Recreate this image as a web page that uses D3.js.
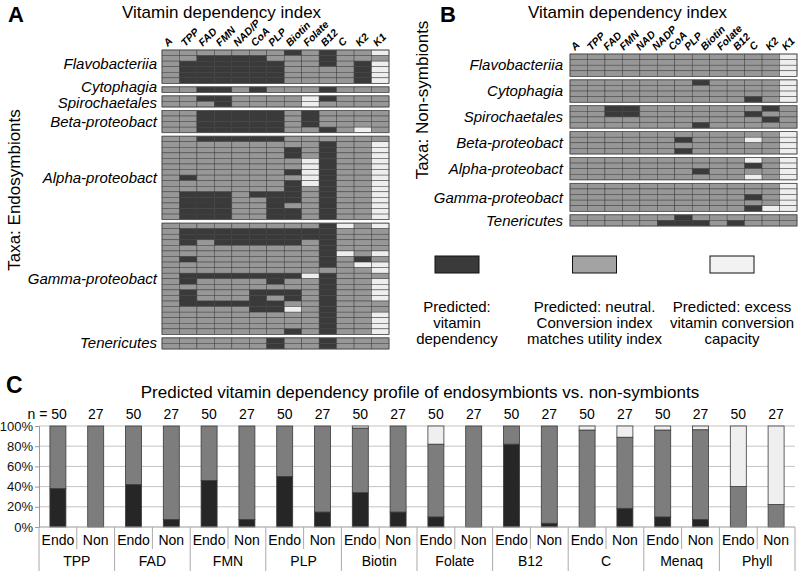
<!DOCTYPE html>
<html><head><meta charset="utf-8">
<script src="https://cdn.jsdelivr.net/npm/d3@7"></script>
<style>
html,body{margin:0;padding:0;background:#fff;}
svg{display:block;font-family:"Liberation Sans",Arial,sans-serif;}
</style></head>
<body><div id="chart"></div>
<script>
// ---------- DATA ----------
const colsA = ["A","TPP","FAD","FMN","NAD/P","CoA","PLP","Biotin","Folate","B12","C","K2","K1"];
const colsB = ["A","TPP","FAD","FMN","NAD","NADP","CoA","PLP","Biotin","Folate","B12","C","K2","K1"];
const groupsA = ["Flavobacteriia","Cytophagia","Spirochaetales","Beta-proteobact","Alpha-proteobact","Gamma-proteobact","Tenericutes"];
const groupsB = ["Flavobacteriia","Cytophagia","Spirochaetales","Beta-proteobact","Alpha-proteobact","Gamma-proteobact","Tenericutes"];
// codes: d = vitamin dependency, g = neutral, l = excess conversion capacity
const flavoA = ["gggggggdgdggl","ggddddgggdggg","gddddddggdgdl","gddddddggggdl","gddddddggggdl","gddddddggggdl"];
const cytoA = ["ggddgdgggdggg"];
const spiroA = ["ggddggggldggg","gggdgggglgggg"];
const betaA = ["ggdddddgdgggg","ggdddddgdgggg","ggdddddgdgggg","ggdddddggdglg"];
const alphaA = ["ggdddddgggggg","gggggggggdggl","gggggggdgdggl","gggggggdgdggl","ggggggggldggl",
  "ggggggggldggl","gggggggdldggl","gdggggggldggl","gggggggdldggl","gggggggdgdggl",
  "gdddgdddgdggl","gdddggddgdggl","gdddggdggdggl","gdddggddgdggl","gdddggddgdggl"];
const gammaA = ["gggggggggdlgl","gdddddddddggg","gdddddddddggg","gdgdddddgdggg","gggggggggdggg",
  "gggggggggdlgl","gdgggggggdgdg","gggggggggdgll","ggggggggggggl","gdddddddldggg",
  "gdggggdggdggl","gggggggggdggl","gdgggdddgdggl","gdgggdgdgdggl","gddddddggdggg",
  "gggggddlgdggg","gggggggggdggl","gggggggggdggl","gggggggggdggl","gggggggdgdggl"];
const teneA = ["ggggggdggdggg","ggggggdggdggg"];

const flavoB = ["ggggggggggggl","ggggggggggggl","ggggggggggggl","ggggggggggggl"];
const cytoB = ["gggggggdggggl","ggggggggggggl","ggggggggggggl","ggggggggggdgl"];
const spiroB = ["ggddgggggggdg","ggddggggggdgg","gggggggggggdg","gggggggdggggg"];
const betaB = ["ggggggggggggl","ggggggdggglgl","ggggggggggggl","ggggggdgggggl"];
const alphaB = ["gggggggggglgl","ggggggggggdgl","gggggggdggggl","gggggggggglgl"];
const gammaB = ["ggggggggggggl","ggggggggggggl","ggggggggggdgl","ggggggggggggl","ggggggggggdll"];
const teneB = ["ggggggdgggggg","gggggdddgdggg"];

const vitamins = ["TPP","FAD","FMN","PLP","Biotin","Folate","B12","C","Menaq","Phyll"];
const endoDep = [38,42,46,50,34,10,82,0,10,0];
const endoNeu = [62,58,54,50,64,72,18,96,86,40];
const endoExc = [0,0,0,0,2,18,0,4,4,60];
const nonDep = [0,7.4,7.4,14.8,14.8,0,3.7,18.5,7.4,0];
const nonNeu = [100,92.6,92.6,85.2,85.2,100,96.3,70.4,88.9,22.2];
const nonExc = [0,0,0,0,0,0,0,11.1,3.7,77.8];
const nCounts = {Endo:50, Non:27};
const yTicks = [0,20,40,60,80,100];

const legendLabels = [
  ["Predicted:","vitamin","dependency"],
  ["Predicted: neutral.","Conversion index","matches utility index"],
  ["Predicted: excess","vitamin conversion","capacity"]];

// ---------- STYLE ----------
const heatColor = {d:"#3a3a3a", g:"#979797", l:"#eeeeee"};
const barColor = {dep:"#262626", neu:"#7d7d7d", exc:"#efefef"};

const svg = d3.select("#chart").append("svg").attr("width",800).attr("height",571);

function heatmap(cfg){
  const {cols, labels, groups, rows, x0, x1, y0, y1, labelX, colLabelY, labelNudge} = cfg;
  const gapU = 0.62;
  const flat = [];
  let off = 0;
  const gInfo = [];
  rows.forEach((grp, gi) => {
    const start = off;
    grp.forEach(r => { flat.push({gi, off, code:r}); off += 1; });
    gInfo.push({name:groups[gi], start, end:off});
    off += gapU;
  });
  const total = off - gapU;
  const y = d3.scaleLinear().domain([0,total]).range([y0,y1]);
  const x = d3.scaleBand().domain(d3.range(cols)).range([x0,x1]);
  const g = svg.append("g");
  flat.forEach(r => {
    g.selectAll(null).data(r.code.split("")).join("rect")
      .attr("x",(c,j)=>x(j)).attr("y",y(r.off))
      .attr("width",x.bandwidth()).attr("height",y(r.off+1)-y(r.off))
      .attr("fill",c=>heatColor[c]).attr("stroke","#3e3e3e").attr("stroke-width",0.5);
  });
  gInfo.forEach((gi,k) => {
    g.append("rect").attr("x",x0).attr("y",y(gi.start)).attr("width",x1-x0)
      .attr("height",y(gi.end)-y(gi.start)).attr("fill","none").attr("stroke","#555").attr("stroke-width",0.8);
    g.append("text").attr("x",labelX).attr("y",(y(gi.start)+y(gi.end))/2 + (labelNudge[k]||0))
      .attr("dy","0.35em").attr("text-anchor","end").attr("font-style","italic")
      .attr("font-size",15).text(gi.name);
  });
  const xl = d3.scaleBand().domain(labels).range([x0,x1]);
  g.selectAll(".cl").data(labels).join("text")
    .attr("transform",d=>`translate(${xl(d)+xl.bandwidth()/2-3},${colLabelY}) rotate(-45)`)
    .attr("font-size",10.5).attr("font-weight","bold").attr("font-style","italic").text(d=>d);
}

// Panel A
svg.append("text").attr("x",8).attr("y",22).attr("font-size",22).attr("font-weight","bold").text("A");
svg.append("text").attr("x",122).attr("y",18).attr("font-size",17).text("Vitamin dependency index");
svg.append("text").attr("transform","translate(20,190) rotate(-90)").attr("text-anchor","middle").attr("font-size",17).text("Taxa: Endosymbionts");
heatmap({cols:13, labels:colsA, groups:groupsA, rows:[flavoA,cytoA,spiroA,betaA,alphaA,gammaA,teneA],
  x0:162, x1:389, y0:50, y1:349, labelX:157, colLabelY:47, labelNudge:[-3,-3,1,0,0,0,-1]});

// Panel B
svg.append("text").attr("x",440).attr("y",22).attr("font-size",22).attr("font-weight","bold").text("B");
svg.append("text").attr("x",528).attr("y",18).attr("font-size",17).text("Vitamin dependency index");
svg.append("text").attr("transform","translate(428,100) rotate(-90)").attr("text-anchor","middle").attr("font-size",17).text("Taxa: Non-symbionts");
heatmap({cols:13, labels:colsB, groups:groupsB, rows:[flavoB,cytoB,spiroB,betaB,alphaB,gammaB,teneB],
  x0:570, x1:797, y0:54, y1:226, labelX:563, colLabelY:51, labelNudge:[]});

// Legend
const legX = d3.scalePoint().domain([0,1,2]).range([457,732]);
const legFill = [heatColor.d, "#a3a3a3", "#f2f2f2"];
legendLabels.forEach((lines,i)=>{
  svg.append("rect").attr("x",legX(i)-22).attr("y",256).attr("width",44).attr("height",17)
    .attr("fill",legFill[i]).attr("stroke","#111").attr("stroke-width",1);
  lines.forEach((t,k)=>{
    svg.append("text").attr("x",legX(i)).attr("y",312+k*16).attr("text-anchor","middle")
      .attr("font-size",15).text(t);
  });
});

// Panel C
svg.append("text").attr("x",6).attr("y",393).attr("font-size",23).attr("font-weight","bold").text("C");
svg.append("text").attr("x",420).attr("y",398).attr("text-anchor","middle").attr("font-size",17)
  .text("Predicted vitamin dependency profile of endosymbionts vs. non-symbionts");

const cx0 = 39, cx1 = 795;
const y = d3.scaleLinear().domain([0,100]).range([527,426]);
const xg = d3.scaleBand().domain(vitamins).range([cx0,cx1]);
const xs = d3.scaleBand().domain(["Endo","Non"]).range([0,xg.bandwidth()]);
const barW = 16;

// gridlines
svg.append("g").selectAll("line").data(yTicks.filter(t=>t>0)).join("line")
  .attr("x1",cx0).attr("x2",cx1).attr("y1",d=>y(d)).attr("y2",d=>y(d))
  .attr("stroke","#c4c4c4").attr("stroke-width",1);
// y axis
const yAxis = svg.append("g").attr("transform",`translate(${cx0},0)`)
  .call(d3.axisLeft(y).tickValues(yTicks).tickFormat(d=>d+"%").tickSize(4).tickPadding(2));
yAxis.select(".domain").attr("stroke","#999");
yAxis.selectAll(".tick line").attr("stroke","#999");
yAxis.selectAll("text").attr("font-size",13).attr("font-family","Liberation Sans, Arial, sans-serif").attr("fill","#111");

const barData = [];
vitamins.forEach((v,i)=>{
  barData.push({v, s:"Endo", dep:endoDep[i], neu:endoNeu[i], exc:endoExc[i]});
  barData.push({v, s:"Non", dep:nonDep[i], neu:nonNeu[i], exc:nonExc[i]});
});
const bx = d=> xg(d.v)+xs(d.s)+xs.bandwidth()/2;
const bars = svg.append("g");
barData.forEach(d=>{
  const segs = [["dep",0,d.dep],["neu",d.dep,d.dep+d.neu],["exc",d.dep+d.neu,100]];
  segs.forEach(([k,a,b])=>{
    if(b-a<=0.01) return;
    bars.append("rect").attr("x",bx(d)-barW/2).attr("y",y(b)).attr("width",barW)
      .attr("height",y(a)-y(b)).attr("fill",barColor[k]).attr("stroke","#3a3a3a").attr("stroke-width",0.8);
  });
});
// n labels
svg.append("g").selectAll("text").data(barData).join("text")
  .attr("x",(d,i)=> i===0 ? bx(d)+9 : bx(d)).attr("y",419)
  .attr("text-anchor",(d,i)=> i===0 ? "end":"middle").attr("font-size",14)
  .text((d,i)=> i===0 ? "n = "+nCounts[d.s] : nCounts[d.s]);
// category axis
const ax = svg.append("g");
ax.append("line").attr("x1",cx0).attr("x2",cx1).attr("y1",y(0)).attr("y2",y(0)).attr("stroke","#999");
vitamins.forEach(v=>{
  ax.append("line").attr("x1",xg(v)).attr("x2",xg(v)).attr("y1",y(0)).attr("y2",571).attr("stroke","#aaa");
  ax.append("line").attr("x1",xg(v)+xs("Non")).attr("x2",xg(v)+xs("Non")).attr("y1",y(0)).attr("y2",y(0)+22).attr("stroke","#aaa");
  ax.append("text").attr("x",xg(v)+xg.bandwidth()/2).attr("y",566).attr("text-anchor","middle").attr("font-size",14).text(v);
});
ax.append("line").attr("x1",cx1).attr("x2",cx1).attr("y1",y(0)).attr("y2",571).attr("stroke","#aaa");
svg.append("g").selectAll("text").data(barData).join("text")
  .attr("x",bx).attr("y",545).attr("text-anchor","middle").attr("font-size",14).text(d=>d.s);
</script></body></html>
